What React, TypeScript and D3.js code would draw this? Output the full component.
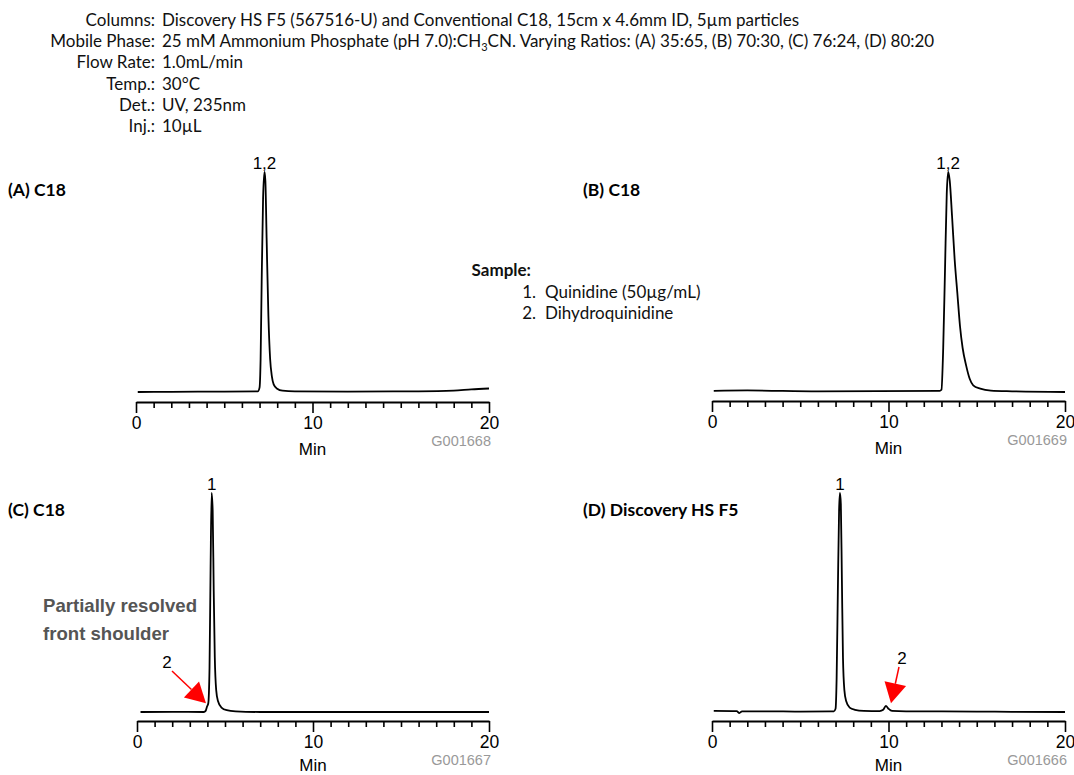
import React, {useEffect, useRef} from 'react'
import * as d3 from 'd3'

// chromatogram traces, [time (min), signal (% of main peak)]
const traceA: [number, number][] = [
  [0.1, 0], [2, 0.1], [5, 0.2], [6.9, 0.3], [7.0, 2], [7.06, 15], [7.12, 50], [7.2, 88],
  [7.28, 100], [7.33, 96], [7.4, 70], [7.5, 35], [7.6, 15], [7.7, 7], [7.8, 3.5], [8.0, 1.5],
  [8.3, 0.6], [9, 0.3], [12, 0.2], [16, 0.3], [18, 0.6], [19, 1.2], [20, 1.6],
]
const traceB: [number, number][] = [
  [0.1, 0.5], [2, 0.7], [6, 0.3], [12.9, 0.5], [13.0, 1], [13.1, 20], [13.2, 55], [13.3, 90],
  [13.38, 100], [13.47, 96], [13.6, 80], [13.75, 60], [13.9, 45], [14.05, 30], [14.2, 20],
  [14.4, 12], [14.6, 6], [14.8, 3], [15.2, 1.5], [15.8, 0.6], [17, 0.3], [20, 0],
]
const traceC: [number, number][] = [
  [0.2, 0], [2, 0.1], [3.8, 0], [3.9, 0.5], [3.98, 2.5], [4.05, 4], [4.12, 20], [4.18, 65],
  [4.24, 100], [4.3, 92], [4.36, 55], [4.42, 25], [4.5, 10], [4.6, 5], [4.8, 2], [5.1, 0.8],
  [5.6, 0.3], [7, 0], [20, 0],
]
const traceD: [number, number][] = [
  [0.1, 0.5], [1.4, 0.4], [1.55, -0.5], [1.7, 0.3], [3, 0.3], [5, 0.2], [6.9, 0.3], [7.0, 1.5],
  [7.06, 15], [7.13, 55], [7.2, 92], [7.25, 100], [7.3, 95], [7.36, 60], [7.42, 25], [7.5, 10],
  [7.6, 5], [7.8, 2], [8.1, 1], [8.6, 0.5], [9.5, 0.4], [9.7, 1], [9.85, 2.8], [10.0, 1.5],
  [10.2, 0.5], [11, 0.3], [15, 0.2], [17, 0.1], [20, 0],
]

const panelTitles = ['(A) C18', '(B) C18', '(C) C18', '(D) Discovery HS F5']
const figureCodes = ['G001668', 'G001669', 'G001667', 'G001666']
const peakLabels = [
  [{t: 7.28, s: 100, label: '1,2'}],
  [{t: 13.38, s: 100, label: '1,2'}],
  [{t: 4.24, s: 100, label: '1'}],
  [{t: 7.25, s: 100, label: '1'}],
]
const tickValues = d3.range(0, 21, 1)

const headerLabels = ['Columns:', 'Mobile Phase:', 'Flow Rate:', 'Temp.:', 'Det.:', 'Inj.:']
const headerValues = [
  'Discovery HS F5 (567516-U) and Conventional C18, 15cm x 4.6mm ID, 5µm particles',
  '25 mM Ammonium Phosphate (pH 7.0):CH|3|CN. Varying Ratios: (A) 35:65, (B) 70:30, (C) 76:24, (D) 80:20',
  '1.0mL/min',
  '30°C',
  'UV, 235nm',
  '10µL',
]
const sampleItems = ['Quinidine (50µg/mL)', 'Dihydroquinidine']

// layout of the four panels
const layout = [
  {x0: 136, x1: 489, base: 392, top: 172, axis: 402, titleX: 8, titleY: 196},
  {x0: 712, x1: 1065, base: 392, top: 172, axis: 401, titleX: 583, titleY: 196},
  {x0: 137, x1: 489, base: 712, top: 493, axis: 721, titleX: 8, titleY: 516},
  {x0: 712, x1: 1065, base: 712, top: 493, axis: 721, titleX: 583, titleY: 516},
]

const App = () => {
  const ref = useRef<SVGSVGElement>(null)

  useEffect(() => {
    const svg = d3.select(ref.current)
    svg.selectAll('*').remove()

    const sans = "Lato, 'Noto Sans', sans-serif"
    const arial = "'Liberation Sans', Arial, sans-serif"

    // header block
    const header = svg.append('g').attr('font-family', sans).attr('font-size', 17).attr('fill', '#111')
    headerLabels.forEach((lab, i) => {
      const y = 26 + i * 21.2
      header.append('text').attr('x', 155).attr('y', y).attr('text-anchor', 'end').text(lab)
      const t = header.append('text').attr('x', 162).attr('y', y)
      const parts = headerValues[i].split('|')
      parts.forEach((p, j) => {
        if (j === 1) {
          t.append('tspan').attr('font-size', 11).attr('dy', 4).text(p)
        } else if (j === 2) {
          t.append('tspan').attr('dy', -4).text(p)
        } else {
          t.append('tspan').text(p)
        }
      })
    })

    // sample legend
    const legend = svg.append('g').attr('font-family', sans).attr('font-size', 17).attr('fill', '#111')
    legend.append('text').attr('x', 531).attr('y', 276).attr('text-anchor', 'end')
      .attr('font-weight', 'bold').text('Sample:')
    sampleItems.forEach((s, i) => {
      legend.append('text').attr('x', 536).attr('y', 298 + i * 21).attr('text-anchor', 'end').text(`${i + 1}.`)
      legend.append('text').attr('x', 545).attr('y', 298 + i * 21).text(s)
    })

    const traces = [traceA, traceB, traceC, traceD]

    layout.forEach((L, i) => {
      const g = svg.append('g')
      const x = d3.scaleLinear().domain([0, 20]).range([L.x0, L.x1])
      const y = d3.scaleLinear().domain([0, 100]).range([L.base, L.top])

      g.append('text').attr('x', L.titleX).attr('y', L.titleY)
        .attr('font-family', sans).attr('font-weight', 'bold').attr('font-size', 17.5)
        .text(panelTitles[i])

      const axis = d3.axisBottom(x)
        .tickValues(tickValues)
        .tickSize(6)
        .tickSizeOuter(0)
        .tickFormat(d => (+d % 10 === 0 ? String(d) : ''))
      const ax = g.append('g').attr('transform', `translate(0,${L.axis})`).call(axis)
      ax.select('.domain').attr('stroke-width', 2).attr('stroke', '#000')
      ax.selectAll('.tick line').attr('stroke-width', 1.6).attr('stroke', '#000')
        .filter((d: any) => d % 10 === 0).attr('y2', 11)
      ax.selectAll('.tick text').attr('y', 15).attr('font-size', 17.5)
        .attr('font-family', arial).attr('fill', '#000')

      g.append('text').attr('x', x(10)).attr('y', Math.min(L.axis + 53, 771)).attr('text-anchor', 'middle')
        .attr('font-family', arial).attr('font-size', 17).text('Min')
      g.append('text').attr('x', L.x1 + 2).attr('y', L.axis + 44).attr('text-anchor', 'end')
        .attr('font-family', arial).attr('font-size', 14.5).attr('fill', '#999').text(figureCodes[i])

      const line = d3.line<[number, number]>()
        .x(d => x(d[0]))
        .y(d => y(d[1]))
        .curve(d3.curveMonotoneX)
      g.append('path').datum(traces[i]).attr('d', line)
        .attr('fill', 'none').attr('stroke', '#000').attr('stroke-width', 1.8)

      peakLabels[i].forEach(p => {
        g.append('text').attr('x', x(p.t)).attr('y', y(p.s) - 3).attr('text-anchor', 'middle')
          .attr('font-family', arial).attr('font-size', 17).text(p.label)
      })
    })

    // annotations for panel C and D
    const arrows = [
      {panel: 2, t: 3.92, s: 4, lx: 167, ly: 668, tailX: 172, tailY: 671},
      {panel: 3, t: 10.14, s: 4, lx: 902, ly: 664, tailX: 899, tailY: 667},
    ]
    arrows.forEach(a => {
      const L = layout[a.panel]
      const x = d3.scaleLinear().domain([0, 20]).range([L.x0, L.x1])
      const y = d3.scaleLinear().domain([0, 100]).range([L.base, L.top])
      const tx = x(a.t), ty = y(a.s)
      const dx = tx - a.tailX, dy = ty - a.tailY
      const len = Math.hypot(dx, dy)
      const ux = dx / len, uy = dy / len
      const head = 20, half = 11
      const bx = tx - ux * head, by = ty - uy * head
      svg.append('line').attr('x1', a.tailX).attr('y1', a.tailY).attr('x2', bx).attr('y2', by)
        .attr('stroke', '#ff0000').attr('stroke-width', 1.5)
      svg.append('path')
        .attr('d', `M${tx},${ty}L${bx - uy * half},${by + ux * half}L${bx + uy * half},${by - ux * half}Z`)
        .attr('fill', '#ff0000')
      svg.append('text').attr('x', a.lx).attr('y', a.ly).attr('text-anchor', 'middle')
        .attr('font-family', arial).attr('font-size', 17).text('2')
    })

    svg.append('text').attr('font-family', arial).attr('font-weight', 'bold').attr('font-size', 18.6)
      .attr('fill', '#555')
      .selectAll('tspan')
      .data(['Partially resolved', 'front shoulder'])
      .join('tspan')
      .attr('x', 43).attr('y', (d, i) => 612 + i * 28)
      .text(d => d)
  }, [])

  return <svg ref={ref} width={1074} height={775}
    style={{position: 'absolute', left: 0, top: 0, background: '#fff'}} />
}

export default App
